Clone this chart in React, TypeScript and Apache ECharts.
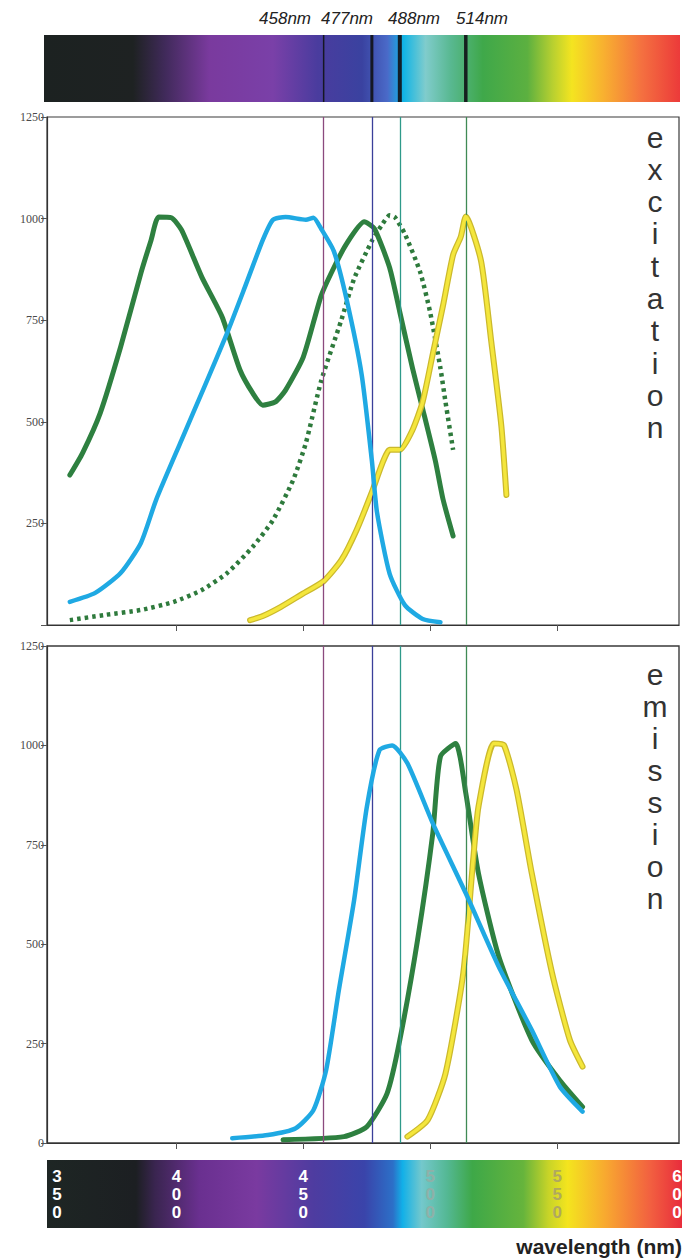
import React, { useEffect, useRef } from 'react';
import * as echarts from 'echarts';

// ---- data ----
const laserLines = [458, 477, 488, 514];
const laserLabels = ['458nm', '477nm', '488nm', '514nm'];
const xTicks = [400, 450, 500, 550];
const barTicks = [350, 400, 450, 500, 550, 600];

const exGreenNm = [358, 363, 370, 378, 386, 390, 393, 398, 402, 410, 418, 425, 430, 434, 439, 443, 450, 457, 462, 467, 474, 478, 484, 488, 493, 497, 502, 505, 509];
const exGreenVal = [369, 423, 522, 684, 866, 947, 1004, 1002, 972, 856, 758, 628, 571, 541, 549, 578, 660, 810, 879, 938, 992, 975, 879, 770, 632, 532, 404, 310, 219];

const exBlueNm = [358, 368, 378, 386, 392, 402, 411, 420, 427, 434, 438, 443, 451, 454, 457, 462, 467, 473, 477, 479, 484, 490, 497, 504];
const exBlueVal = [57, 79, 128, 202, 308, 455, 586, 719, 832, 947, 997, 1004, 997, 1002, 975, 920, 802, 615, 404, 278, 126, 49, 15, 7];

const exDotNm = [358, 372, 386, 399, 410, 420, 430, 438, 446, 451, 457, 465, 470, 477, 481, 484, 486, 490, 496, 500, 504, 506, 509];
const exDotVal = [12, 25, 37, 57, 86, 128, 192, 258, 357, 448, 600, 751, 852, 945, 985, 1008, 1004, 962, 869, 768, 632, 549, 431];

const exYellowNm = [429, 434, 441, 449, 458, 465, 471, 477, 481, 484, 488, 493, 497, 501, 505, 509, 512, 514, 520, 524, 528, 530];
const exYellowVal = [12, 22, 44, 74, 108, 160, 234, 327, 396, 431, 431, 480, 549, 667, 785, 911, 955, 1005, 896, 699, 490, 320];

const emBlueNm = [422, 436, 447, 454, 459, 464, 470, 475, 480, 485, 491, 501, 514, 527, 540, 551, 560];
const emBlueVal = [12, 20, 37, 83, 184, 385, 611, 845, 988, 1000, 955, 804, 628, 443, 284, 142, 79];

const emGreenNm = [442, 466, 475, 483, 488, 495, 501, 504, 510, 514, 519, 527, 540, 551, 560];
const emGreenVal = [8, 16, 41, 125, 259, 511, 779, 972, 1005, 880, 678, 469, 259, 158, 91];

const emYellowNm = [491, 499, 506, 513, 517, 519, 525, 529, 534, 540, 548, 555, 560];
const emYellowVal = [16, 58, 175, 427, 720, 846, 1005, 1001, 888, 678, 427, 259, 192];

// ---- styles ----
const GREEN = '#2e8040';
const BLUE = '#1fa9e3';
const YELLOW = '#f4e63c';
const YELLOW_EDGE = '#cbb92c';
const laserColors = ['#8b4a7e', '#3b3f9a', '#2e9a8a', '#3f8a55'];
const laserBarWidths = [1.5, 3, 4, 3.5];
const barLabelColors = ['#ffffff', '#ffffff', '#ffffff', '#8fb0a8', '#b0a860', '#ffffff'];

const zip = (a: number[], b: number[]) => a.map((v, i) => [v, b[i]]);

const topGrad = {
  type: 'linear', x: 0, y: 0, x2: 1, y2: 0,
  colorStops: [
    { offset: 0, color: '#1c2221' },
    { offset: 0.14, color: '#1e2222' },
    { offset: 0.19, color: '#402a5a' },
    { offset: 0.26, color: '#7a3a9e' },
    { offset: 0.36, color: '#7a40a8' },
    { offset: 0.43, color: '#4a3c9e' },
    { offset: 0.5, color: '#3a42a0' },
    { offset: 0.54, color: '#4a6ac8' },
    { offset: 0.565, color: '#10b4e6' },
    { offset: 0.6, color: '#80cccc' },
    { offset: 0.64, color: '#58b890' },
    { offset: 0.69, color: '#3fa84a' },
    { offset: 0.76, color: '#5cb040' },
    { offset: 0.8, color: '#b8d030' },
    { offset: 0.83, color: '#f4e420' },
    { offset: 0.88, color: '#f8b030' },
    { offset: 0.94, color: '#f47040' },
    { offset: 1, color: '#ec3a3a' },
  ],
};
const botGrad = {
  type: 'linear', x: 0, y: 0, x2: 1, y2: 0,
  colorStops: [
    { offset: 0, color: '#1e2624' },
    { offset: 0.14, color: '#1c1f22' },
    { offset: 0.17, color: '#3a2550' },
    { offset: 0.24, color: '#6a3090' },
    { offset: 0.33, color: '#7a3aa0' },
    { offset: 0.42, color: '#4e3ca0' },
    { offset: 0.5, color: '#3a44aa' },
    { offset: 0.545, color: '#2c70c8' },
    { offset: 0.56, color: '#12b0e8' },
    { offset: 0.59, color: '#74c8cc' },
    { offset: 0.63, color: '#54b894' },
    { offset: 0.67, color: '#3ea848' },
    { offset: 0.75, color: '#66b43c' },
    { offset: 0.79, color: '#c8d428' },
    { offset: 0.82, color: '#f4e41e' },
    { offset: 0.88, color: '#f8a830' },
    { offset: 0.95, color: '#f26040' },
    { offset: 1, color: '#e82c3c' },
  ],
};

const lineSeries = (name: string, data: number[][], idx: number, color: string, width: number, type: any = 'solid', z = 3, cap = 'round') => ({
  name, type: 'line', data, xAxisIndex: idx, yAxisIndex: idx,
  showSymbol: false, symbol: 'none', smooth: 0.2, silent: true, z,
  lineStyle: { color, width, type, cap, join: 'round' },
});

const laserSeries = (idx: number) => ({
  type: 'line', xAxisIndex: idx, yAxisIndex: idx, data: [], z: 1, silent: true,
  markLine: {
    silent: true, symbol: ['none', 'none'], label: { show: false }, animation: false,
    data: laserLines.map((nm, i) => ({ xAxis: nm, lineStyle: { color: laserColors[i], width: 1.3, type: 'solid' } })),
  },
});

const yAxisDef = (idx: number, hideZero: boolean) => ({
  type: 'value', gridIndex: idx, min: 0, max: 1250, interval: 250,
  axisLine: { show: true, lineStyle: { color: '#333', width: 1.2 } },
  axisTick: { show: true, length: 6, lineStyle: { color: '#555' } },
  axisLabel: {
    margin: 3, fontSize: 12, fontFamily: "'Liberation Serif', 'DejaVu Serif', serif", color: '#4a4a4a',
    formatter: (v: number) => (hideZero && v === 0 ? '' : String(v)),
  },
  splitLine: { show: false },
});

const xAxisDef = (idx: number) => ({
  type: 'value', gridIndex: idx, min: 349, max: 598,
  axisLine: { show: true, lineStyle: { color: '#333', width: 1.2 } },
  axisTick: { show: true, length: 6, customValues: xTicks, lineStyle: { color: '#555' } },
  axisLabel: { show: false },
  splitLine: { show: false },
});

const option: any = {
  animation: false,
  backgroundColor: '#ffffff',
  grid: [
    { left: 47, top: 117, width: 632, height: 508, show: true, borderColor: '#3a3a3a', borderWidth: 1.2, backgroundColor: 'transparent' },
    { left: 47, top: 646, width: 632, height: 497, show: true, borderColor: '#3a3a3a', borderWidth: 1.4, backgroundColor: 'transparent' },
  ],
  xAxis: [xAxisDef(0), xAxisDef(1)],
  yAxis: [yAxisDef(0, true), yAxisDef(1, false)],
  series: [
    laserSeries(0),
    laserSeries(1),
    lineSeries('ex-green', zip(exGreenNm, exGreenVal), 0, GREEN, 5, 'solid', 3),
    lineSeries('ex-dotted', zip(exDotNm, exDotVal), 0, '#2e7a3c', 4.5, [3.5, 4], 3, 'butt'),
    lineSeries('ex-yellow-edge', zip(exYellowNm, exYellowVal), 0, YELLOW_EDGE, 6, 'solid', 4),
    lineSeries('ex-yellow', zip(exYellowNm, exYellowVal), 0, YELLOW, 3.5, 'solid', 5),
    lineSeries('ex-blue', zip(exBlueNm, exBlueVal), 0, BLUE, 4.5, 'solid', 6),
    lineSeries('em-green', zip(emGreenNm, emGreenVal), 1, GREEN, 5, 'solid', 3),
    lineSeries('em-yellow-edge', zip(emYellowNm, emYellowVal), 1, YELLOW_EDGE, 6, 'solid', 4),
    lineSeries('em-yellow', zip(emYellowNm, emYellowVal), 1, YELLOW, 3.5, 'solid', 5),
    lineSeries('em-blue', zip(emBlueNm, emBlueVal), 1, BLUE, 4.5, 'solid', 6),
  ],
};

const txt = (text: string, x: number, y: number, extra: any = {}) => ({
  type: 'text', x, y, silent: true,
  style: {
    text, fill: '#222', fontFamily: "'Liberation Sans', Arial, sans-serif", fontSize: 14,
    align: 'center', verticalAlign: 'middle', ...extra,
  },
});

function buildGraphic(laserPx: number[], tickPx: number[]) {
  const els: any[] = [];
  // top spectrum bar
  els.push({ type: 'rect', silent: true, shape: { x: 44, y: 35, width: 636, height: 67 }, style: { fill: topGrad } });
  laserPx.forEach((px, i) => {
    const w = laserBarWidths[i];
    els.push({ type: 'rect', silent: true, shape: { x: px - w / 2, y: 35, width: w, height: 67 }, style: { fill: '#111418', opacity: 0.92 } });
  });
  const labelX = [285, 347, 414, 482];
  laserLabels.forEach((l, i) => {
    els.push(txt(l, labelX[i], 18, { fontSize: 17, fontStyle: 'italic', fill: '#222' }));
  });
  // bottom spectrum bar
  els.push({ type: 'rect', silent: true, shape: { x: 47, y: 1160, width: 635, height: 68 }, style: { fill: botGrad } });
  barTicks.forEach((nm, i) => {
    const x = Math.min(677, Math.max(57, tickPx[i]));
    String(nm).split('').forEach((ch, j) => {
      els.push(txt(ch, x, 1176 + j * 18, { fontSize: 17, fontWeight: 'bold', fill: barLabelColors[i] }));
    });
  });
  els.push(txt('wavelength (nm)', 682, 1246, { fontSize: 21, fontWeight: 'bold', align: 'right', fill: '#222' }));
  // vertical words
  'excitation'.split('').forEach((ch, i) => {
    els.push(txt(ch, 655, 137 + i * 32.3, { fontSize: 30, fill: '#333' }));
  });
  'emission'.split('').forEach((ch, i) => {
    els.push(txt(ch, 655, 674 + i * 32, { fontSize: 30, fill: '#333' }));
  });
  return els;
}

export default function App() {
  const ref = useRef<HTMLDivElement>(null);
  useEffect(() => {
    if (!ref.current) return;
    const chart = echarts.init(ref.current, null, { renderer: 'svg' });
    chart.setOption(option);
    const laserPx = laserLines.map((nm) => (chart.convertToPixel({ gridIndex: 0 } as any, [nm, 0]) as number[])[0]);
    const tickPx = barTicks.map((nm) => (chart.convertToPixel({ gridIndex: 1 } as any, [nm, 0]) as number[])[0]);
    chart.setOption({ graphic: buildGraphic(laserPx, tickPx) });
    return () => chart.dispose();
  }, []);
  return (
    <div
      ref={ref}
      style={{ position: 'fixed', left: 0, top: 0, width: 684, height: 1260, background: '#ffffff' }}
    />
  );
}
